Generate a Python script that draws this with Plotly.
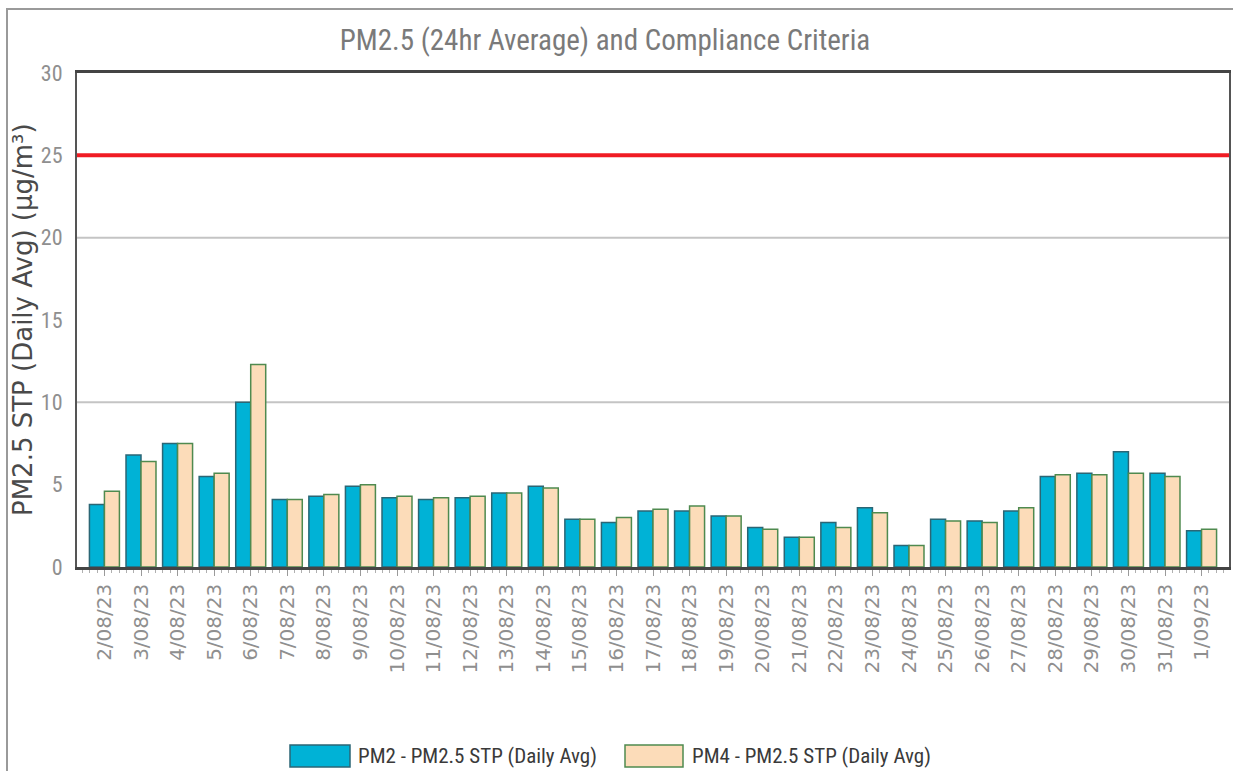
import plotly.graph_objects as go

# ---------------- data ----------------
dates = ["2/08/23", "3/08/23", "4/08/23", "5/08/23", "6/08/23", "7/08/23", "8/08/23",
         "9/08/23", "10/08/23", "11/08/23", "12/08/23", "13/08/23", "14/08/23", "15/08/23",
         "16/08/23", "17/08/23", "18/08/23", "19/08/23", "20/08/23", "21/08/23", "22/08/23",
         "23/08/23", "24/08/23", "25/08/23", "26/08/23", "27/08/23", "28/08/23", "29/08/23",
         "30/08/23", "31/08/23", "1/09/23"]
pm2_values = [3.8, 6.8, 7.5, 5.5, 10.0, 4.1, 4.3, 4.9, 4.2, 4.1, 4.2, 4.5, 4.9, 2.9, 2.7, 3.4,
              3.4, 3.1, 2.4, 1.8, 2.7, 3.6, 1.3, 2.9, 2.8, 3.4, 5.5, 5.7, 7.0, 5.7, 2.2]
pm4_values = [4.6, 6.4, 7.5, 5.7, 12.3, 4.1, 4.4, 5.0, 4.3, 4.2, 4.3, 4.5, 4.8, 2.9, 3.0, 3.5,
              3.7, 3.1, 2.3, 1.8, 2.4, 3.3, 1.3, 2.8, 2.7, 3.6, 5.6, 5.6, 5.7, 5.5, 2.3]
series_names = ["PM2 - PM2.5 STP (Daily Avg)", "PM4 - PM2.5 STP (Daily Avg)"]
compliance_limit = 25
y_ticks = [0, 5, 10, 15, 20, 25, 30]
grid_values = [10, 20]

# ---------------- styles ----------------
BLUE = "#00b2d6"
BLUE_EDGE = "#2b6675"
PEACH = "#fcdcb9"
PEACH_EDGE = "#4f8a4f"
NARROW = "Liberation Sans Narrow, Arial Narrow, Roboto Condensed, Roboto, sans-serif"
WIDE = "DejaVu Sans, Verdana, sans-serif"

L, R, T, B = 77, 4, 73, 204
W, H = 1233, 771
PW, PH = W - L - R, H - T - B


def px_x(px):
    return (px - L) / PW


def px_y(py):
    return (H - B - py) / PH


idx = list(range(len(dates)))

fig = go.Figure()
fig.add_trace(go.Bar(x=idx, y=pm2_values, name=series_names[0],
                     marker=dict(color=BLUE, line=dict(color=BLUE_EDGE, width=1.5)),
                     showlegend=False))
fig.add_trace(go.Bar(x=idx, y=pm4_values, name=series_names[1],
                     marker=dict(color=PEACH, line=dict(color=PEACH_EDGE, width=1.5)),
                     showlegend=False))

shapes = []
for g in grid_values:
    shapes.append(dict(type="line", xref="paper", yref="y", x0=0, x1=1, y0=g, y1=g,
                       line=dict(color="#c4c4c4", width=2), layer="below"))
shapes.append(dict(type="line", xref="paper", yref="y", x0=0, x1=1,
                   y0=compliance_limit, y1=compliance_limit,
                   line=dict(color="#f01c24", width=4), layer="above"))
# outer frame
shapes.append(dict(type="rect", xref="paper", yref="paper",
                   x0=px_x(7), x1=px_x(1250), y0=px_y(800), y1=px_y(9),
                   line=dict(color="#9a9a9a", width=2), layer="below"))
# legend swatches
shapes.append(dict(type="rect", xref="paper", yref="paper",
                   x0=px_x(290), x1=px_x(350), y0=px_y(767), y1=px_y(745),
                   fillcolor=BLUE, line=dict(color=BLUE_EDGE, width=1.5)))
shapes.append(dict(type="rect", xref="paper", yref="paper",
                   x0=px_x(625), x1=px_x(683), y0=px_y(767), y1=px_y(745),
                   fillcolor=PEACH, line=dict(color=PEACH_EDGE, width=1.5)))

annotations = [
    dict(text=series_names[0], xref="paper", yref="paper", x=px_x(356), y=px_y(756),
         xanchor="left", yanchor="middle", showarrow=False,
         font=dict(family=NARROW, size=21, color="#3a3a3a")),
    dict(text=series_names[1], xref="paper", yref="paper", x=px_x(690), y=px_y(756),
         xanchor="left", yanchor="middle", showarrow=False,
         font=dict(family=NARROW, size=21, color="#3a3a3a")),
    dict(text="PM2.5 STP (Daily Avg) (μg/m³)", xref="paper", yref="paper",
         x=px_x(23), y=px_y(320), xanchor="center", yanchor="middle", textangle=-90,
         showarrow=False, font=dict(family=WIDE, size=26, color="#4a4a4a")),
]

fig.update_layout(
    width=W, height=H,
    margin=dict(l=L, r=R, t=T, b=B, autoexpand=False),
    paper_bgcolor="white", plot_bgcolor="white",
    barmode="group", bargap=0.18, bargroupgap=0.0,
    title=dict(text="PM2.5 (24hr Average) and Compliance Criteria",
               x=605 / W, y=1 - 40 / H, xref="container", yref="container",
               xanchor="center", yanchor="middle",
               font=dict(family=NARROW, size=29, color="#7a7a7a")),
    shapes=shapes, annotations=annotations, showlegend=False,
    xaxis=dict(range=[-0.75, len(dates) - 0.25], tickmode="array", tickvals=idx,
               ticktext=dates, tickangle=-90,
               tickfont=dict(family=WIDE, size=20, color="#8f8f8f"),
               ticks="outside", ticklen=6, tickwidth=1, tickcolor="#9a9a9a",
               minor=dict(dtick=0.2, tick0=0, ticks="outside", ticklen=3,
                          tickcolor="#b0b0b0", tickwidth=1, showgrid=False),
               showline=True, linecolor="#444444", linewidth=2.5, mirror=True,
               showgrid=False, zeroline=False, automargin=False),
    yaxis=dict(range=[0, 30], tickmode="array", tickvals=y_ticks,
               tickfont=dict(family=NARROW, size=22, color="#8f8f8f"),
               ticks="", ticklabelstandoff=8,
               showline=True, linecolor="#555555", linewidth=2, mirror=True,
               showgrid=False, zeroline=False, automargin=False),
)

fig.write_html(
    "out.html",
    config={"displayModeBar": False},
    post_script="document.body.style.margin='0';document.body.style.overflow='hidden';",
)
